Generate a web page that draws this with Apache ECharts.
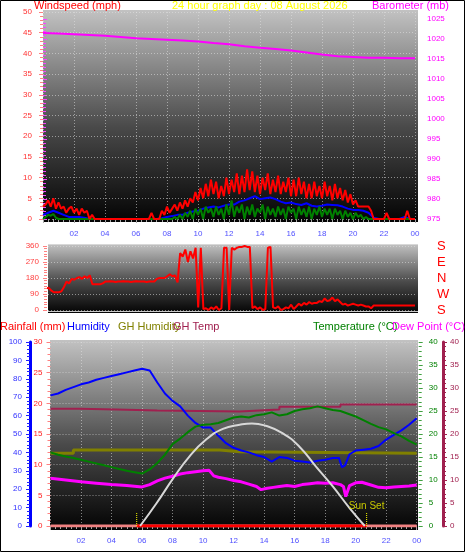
<!DOCTYPE html>
<html><head><meta charset="utf-8">
<script src="https://cdn.jsdelivr.net/npm/echarts@6/dist/echarts.min.js"></script>
<style>html,body{margin:0;padding:0;background:#fff}#c{width:466px;height:555px}</style>
</head><body><div id="c"></div>
<script>
// ---------------- DATA ----------------
const titleText = '24 hour graph day : 08 August 2026';
// Wind (mph): gust at 10-min steps, average at 20-min steps, low at 10-min steps
const GUST_STEP_H = 10 / 60;
const windGust = [3,3.5,4.5,3,5,2.5,4, 2.5,3,1.5,2.5,3,1.5, 2.5,1,2.5,1.5,2,0, 1,
  0,0,0,0,0,0,0,0,0,0,0,0,0,0,0,0,0,0,0,0,0,0, 1.5, 0,0,0, 2,1,3,1.5,2.5,3.5,2,4,
  2.5,4.5,3,5,4,6.5, 4.5,7.5,5,8.5,5.5,9.5, 6,9,5,8,5.5,10, 6,9.5,6.5,11,6,10.5,
  6.5,12,7,11.5,6.5,10.5, 6,10,7,11,6,9.5, 6.5,10.5,6,9,6.5,10, 5.5,9.5,5.5,10,6,9,
  5,8.5,5,9,5.5,8, 5,9,5.5,8,4.5,8.5, 5,7.5,4.5,7,4,6, 3.5,4.5,3,3,3,3, 3,2,
  0,0,0,0,0, 1.5, 0,0,0,0,0,0,0, 2, 0,0,0];
const AVG_STEP_H = 20 / 60;
const windAvg = [1,1.5,2,1.5,1,0.5,0.5,0.5,0.3, 0,0,0,0,0,0,0,0,0,0,0,0,0,0,
  0.2,0.5,0.7,1,1,1.5,1.8,2,2.5,2.8,3,2.8,3.2, 3.5,3.5,4.2,4.5,5,5.5,4.8,5,5.2,4.8,4.2,3.8,
  4,3.6,3.4,3.8,3.2,3,3.2,3.5,3.4,3.3,3,2.5,2.2,2.2,2,1.5, 0.3, 0,0,0,0,0,0.5,0,0];
const LOW_STEP_H = 10 / 60;
const windLow = [0,0.5,1,0.8,1.2,0.3,0,
  0,0,0,0,0,0,0,0,0,0,0,0,0,0,0,0,0,0,0,0,0,0,0,0,0,0,0,0,0,0,0,0,0,0,0,0,0,0,0,0,0,0,0,0,
  0.5,0,1, 0,1.5,0.5,2,0,2.5, 1,2.5,0,3,1.5,2.5, 0.5,3,1,2.5,0,3.5, 1,4.5,0.5,3,1.5,3.5,
  0,3,1,3.5,0.5,2.5, 1.5,3.5,0,3,1,2.5, 0.5,3,1,2.5,0,3, 1.5,2.5,0,3,1,2.5,
  0.5,3,0,2.5,1,3, 0.5,2.5,1,2.5,0,2.5, 1,2,0,2,0.5,1.5, 0,1.5,0.5,1,0,0.5,
  0,0,0,0,0,0,0,0,0,0,0,0,0,0,0,0,0,0,0];
// Barometer (mb), hourly
const BARO_STEP_H = 1;
const barometer = [1021.5,1021.4,1021.2,1021.0,1020.8,1020.5,1020.2,1020.0,1019.8,1019.6,1019.4,1019.0,
  1018.7,1018.2,1017.8,1017.5,1017.1,1016.6,1016.1,1015.7,1015.5,1015.3,1015.3,1015.2,1015.2];
// Wind direction (deg), 10-min steps
const DIR_STEP_H = 10 / 60;
const windDir = [130,120,125,110,100,100,100, 105,130,160,150,175,170, 180,185,175,190,180,195,
  145,145,145,145,150,160, 160,162,160,158,160,160,162,160,160,158,160,162,160,160,160,158,160,
  160,160,175,180,180,180, 190,200,190,195,155,320, 300,340,270,330,290,350, 15,350,5,10,0,15,
  5,20,0,10,350,350, 0,350,340,350,355,355, 360,355,355,10,20,5, 15,0,5,350,355,15,
  10,20,0,5,15,10, 30,5,20,35,25,40, 30,45,35,40,40,50, 45,65,50,55,70,50,
  60,45,30,35,25,30, 35,30,25,30,25,20, 20,10,25, 25,25,25,25,25,25,25,25,25,25,25,25,25,25,25,25];
const dirLetters = ['S','W','N','E','S'];
// Bottom panel
const humHours = [0,0.5,1,1.5,2,2.5,3,3.5,4,4.5,5,5.5,6,6.5,7,7.5,8,8.5,9,9.5,10,10.5,11,11.5,12,12.5,13,13.5,14,14.5,15,15.5,16,16.5,17,17.5,18,18.5,18.9,19.1,19.3,19.6,20,20.5,21,21.5,22,22.5,23,23.5,24];
const humidity = [71,72,74,75.5,77,78,79.5,80.5,81.5,82.5,83.5,84.5,85.5,84.5,78,72,68,65,60,56,53.5,53.5,49,45,42.5,41,40,38.5,37.5,35,37.5,37,35.5,35,34.5,35.5,36,37,37,32,33,39,41,41.5,42,43.5,47,49.5,52,55,58.5];
const tempHours = [0,0.5,1,1.5,2,2.5,3,3.5,4,4.5,5,5.5,6,6.5,7,7.5,8,8.5,9,9.5,10,10.5,11,11.5,12,12.5,13,13.5,14,14.5,15,15.5,16,16.5,17,17.5,18,18.5,19,19.5,20,20.5,21,21.5,22,22.5,23,23.5,24];
const temperature = [16,15.5,15.1,14.8,14.4,14.0,13.6,13.2,12.8,12.4,12.0,11.7,11.4,12.3,13.7,15.5,17.8,19.0,20.4,21.6,22.0,22.1,22.4,23.0,23.6,23.8,23.6,24.1,24.3,24.7,24.0,24.3,25.0,25.4,25.6,26.0,25.6,25.2,25.0,24.4,23.8,23.0,22.2,21.5,21.0,20.2,19.5,18.5,17.7];
const dewHours = [0,1,2,3,4,5,6,6.5,7,7.5,8,8.5,9,9.5,10,10.4,10.7,11,11.5,12,12.5,13,13.5,13.8,14.2,14.6,15,15.5,16,16.5,17,17.5,18,18.5,19,19.2,19.35,19.6,20,20.4,21,21.5,22,22.5,23,23.5,24];
const dewPoint = [10.4,10.0,9.6,9.3,9.0,8.8,8.5,9.0,9.8,10.4,10.8,11.3,11.6,11.8,12.0,12.1,10.9,10.6,10.3,9.9,9.6,9.1,8.6,7.9,8.2,8.4,8.6,8.8,8.6,9.0,9.2,9.4,9.3,9.4,9.0,8.6,6.4,8.8,9.4,9.5,8.9,8.4,8.3,8.5,8.6,8.7,8.9];
const ghHumHours = [0,1.5,1.5,11.1,11.1,12.4,12.4,24];
const ghHumidity = [39.5,39.5,41.3,41.3,40.4,40.4,39.5,39.5];
const ghTempHours = [0,1.9,1.9,4.3,4.3,7.0,7.0,12.4,12.4,15.0,15.0,19.0,19.0,24];
const ghTemp = [25.5,25.5,25.3,25.3,25.1,25.1,24.9,24.9,25.3,25.3,25.9,25.9,26.4,26.4];
const sunHours = [5.87,6.96,8.05,9.1,10.2,11.3,12.4,13.2,14.1,15.2,16.3,17.4,18.5,19.6,20.6];
const sunCurve = [0,5,10.4,15.1,18.8,21.1,22,22.3,21.8,20.2,17.3,12.9,8.6,3.9,0];
const sunEvents = [5.65, 20.72];
const sunEventLabels = ['', 'Sun Set'];
const rainHours = [0, 24];
const rainfall = [0, 0];

// ---------------- CHART ----------------
const FONT = 'Liberation Sans';
const pairs = (hs, vs) => vs.map((v, i) => [hs[i], v]);
const stepped = (step, vs) => vs.map((v, i) => [+(i * step).toFixed(4), v]);
const grid = (c) => ({ color: c, type: [1, 2], width: 1 });
const gridCol = 'rgba(225,225,225,0.55)';
const timeFmt = v => (v > 0 && v <= 24 && v % 2 === 0) ? String(v % 24).padStart(2, '0') : '';
const plainFmt = v => String(v);

function timeAxis(gi, show, extra) {
  return Object.assign({
    type: 'value', gridIndex: gi, min: 0, max: 24, interval: 2,
    axisLine: { show: false },
    axisTick: { show: show, length: 4, lineStyle: { color: '#a8a8a8' } },
    minorTick: { show: show, splitNumber: 6, length: 3, lineStyle: { color: '#a8a8a8' } },
    axisLabel: { show: show, color: '#5050ff', fontSize: 8, fontFamily: FONT, formatter: timeFmt },
    splitLine: { show: true, lineStyle: grid(gridCol) }
  }, extra);
}
function valAxis(o) {
  const col = o.tick;
  return {
    type: 'value', gridIndex: o.grid, position: o.pos, offset: o.offset || 0,
    min: o.min, max: o.max, interval: o.interval,
    axisLine: { show: !!o.line, lineStyle: { color: o.line, width: 3 } },
    axisTick: { show: true, length: 4, lineStyle: { color: col } },
    minorTick: { show: true, splitNumber: o.minor || 5, length: 3, lineStyle: { color: col } },
    axisLabel: { color: o.label, fontSize: 8, fontFamily: FONT, margin: o.margin, formatter: plainFmt },
    splitLine: { show: !!o.split, lineStyle: grid(gridCol) }
  };
}
const bg = (x, y, w, h) => ({
  type: 'rect', z: -1, silent: true, shape: { x, y, width: w, height: h },
  style: { fill: new echarts.graphic.LinearGradient(0, 0, 0, 1, [
    { offset: 0, color: '#c2c2c2' }, { offset: 0.55, color: '#4a4a4a' }, { offset: 1, color: '#030303' }]) }
});
const txt = (text, left, top, color) => ({
  text, left, top, padding: 0,
  textStyle: { color, fontSize: 11, fontWeight: 'normal', fontFamily: FONT }
});
const line = (name, x, y, data, color, width, extra) => Object.assign({
  name, type: 'line', xAxisIndex: x, yAxisIndex: y, data, symbol: 'none',
  lineStyle: { color, width }, itemStyle: { color }, animation: false
}, extra || {});

const chart = echarts.init(document.getElementById('c'), null, { renderer: 'canvas' });
const option = {
  backgroundColor: '#ffffff',
  animation: false,
  title: [
    txt('Windspeed (mph)', 34, 0, '#ff0000'),
    txt(titleText, 172, 0, '#ffff00'),
    txt('Barometer (mb)', 372, 0, '#ff00ff'),
    txt('Rainfall (mm)', 0, 321, '#ff0000'),
    txt('Humidity', 67, 321, '#0000ff'),
    txt('GH Humidity', 118, 321, '#808000'),
    txt('GH Temp', 173, 321, '#a0204f'),
    txt('Temperature (°C)', 313, 321, '#008000'),
    txt('Dew Point (°C)', 392, 321, '#ff00ff')
  ],
  graphic: [
    bg(43, 10, 375, 212),
    bg(48, 244, 370, 69),
    { type: 'line', z: -1, silent: true, shape: { x1: 48, y1: 244.5, x2: 418, y2: 244.5 }, style: { stroke: '#d8d8d8', lineWidth: 1 } },
    { type: 'line', z: -1, silent: true, shape: { x1: 48, y1: 311.5, x2: 418, y2: 311.5 }, style: { stroke: '#c8c8c8', lineWidth: 1 } },
    bg(50, 340, 368, 190),
    { type: 'rect', silent: true, shape: { x: 0.5, y: 0.5, width: 464, height: 551 }, style: { fill: null, stroke: '#000', lineWidth: 1 } }
  ],
  grid: [
    { left: 43, top: 12, width: 372, height: 207 },
    { left: 43, top: 19, width: 372, height: 200 },
    { left: 48, top: 246, width: 367, height: 64 },
    { left: 50.5, top: 342, width: 366.2, height: 184 }
  ],
  xAxis: [
    timeAxis(0, true, { offset: 3, axisLabel: { show: true, color: '#5050ff', fontSize: 8, fontFamily: FONT, formatter: timeFmt, margin: 8 } }),
    timeAxis(1, false, { splitLine: { show: false } }),
    timeAxis(2, false, { min: 0.3, interval: null, splitLine: { show: false } }),
    timeAxis(3, true, { offset: 4, axisLabel: { show: true, color: '#5050ff', fontSize: 8, fontFamily: FONT, formatter: timeFmt, margin: 7 } })
  ],
  yAxis: [
    valAxis({ grid: 0, pos: 'left', offset: 2, min: 0, max: 50, interval: 5, tick: '#ff8080', label: '#ff3030', margin: 9, split: true }),
    valAxis({ grid: 1, pos: 'right', offset: 5, min: 975, max: 1025, interval: 5, tick: '#ff40ff', label: '#ff00ff', margin: 7 }),
    valAxis({ grid: 2, pos: 'left', offset: 1, min: 0, max: 360, interval: 90, minor: 6, tick: '#ff8080', label: '#ff4040', margin: 8, split: true }),
    { type: 'value', gridIndex: 2, position: 'right', min: 0, max: 360, interval: 90,
      axisLine: { show: false }, axisTick: { show: false }, splitLine: { show: false },
      axisLabel: { color: '#ff0000', fontSize: 13, fontFamily: FONT, margin: 22,
        formatter: v => dirLetters[Math.round(v / 90)] || '' } },
    valAxis({ grid: 3, pos: 'left', offset: 2, min: 0, max: 30, interval: 5, tick: '#ff8080', label: '#ff2020', margin: 6, split: true }),
    valAxis({ grid: 3, pos: 'left', offset: 20.5, min: 0, max: 100, interval: 10, tick: '#2020ff', label: '#3030ff', margin: 8, line: '#0000ff' }),
    valAxis({ grid: 3, pos: 'right', offset: 2, min: 0, max: 40, interval: 5, tick: '#40a040', label: '#008000', margin: 10 }),
    valAxis({ grid: 3, pos: 'right', offset: 26.3, min: 0, max: 40, interval: 5, tick: '#a0204f', label: '#a0204f', margin: 7, line: '#a0204f' })
  ],
  series: [
    line('Wind speed', 0, 0, stepped(AVG_STEP_H, windAvg), '#0000ff', 2),
    line('Wind low', 0, 0, stepped(LOW_STEP_H, windLow), '#008000', 2),
    line('Wind gust', 0, 0, stepped(GUST_STEP_H, windGust), '#ff0000', 2),
    line('Barometer', 1, 1, stepped(BARO_STEP_H, barometer), '#ff00ff', 2),
    line('Wind direction', 2, 2, stepped(DIR_STEP_H, windDir), '#ff0000', 2),
    line('Rainfall', 3, 4, pairs(rainHours, rainfall), '#f08080', 3),
    line('Daylight', 3, 4, [[sunEvents[0], 0], [sunEvents[1], 0]], '#ff0000', 3),
    line('GH Humidity', 3, 5, pairs(ghHumHours, ghHumidity), '#808000', 3),
    line('GH Temp', 3, 7, pairs(ghTempHours, ghTemp), '#a0204f', 2),
    line('Humidity', 3, 5, pairs(humHours, humidity), '#0000ff', 2),
    line('Temperature', 3, 6, pairs(tempHours, temperature), '#008000', 2),
    line('Dew Point', 3, 6, pairs(dewHours, dewPoint), '#ff00ff', 3),
    line('Sun', 3, 6, pairs(sunHours, sunCurve), '#d8d8d8', 2, { smooth: true }),
    ...sunEvents.map((h, i) => line('Sun event ' + i, 3, 6, [[h, 0], [h, 3]], '#ffff00', 1, {
      lineStyle: { color: '#ffff00', width: 1, type: [1, 1] },
      markPoint: sunEventLabels[i] ? {
        symbol: 'circle', symbolSize: 0,
        label: { show: true, position: 'top', distance: 1, color: '#c8c800', fontSize: 10, fontFamily: FONT, formatter: sunEventLabels[i] },
        data: [{ coord: [h, 3] }]
      } : undefined
    }))
  ]
};
chart.setOption(option);
</script>
</body></html>
